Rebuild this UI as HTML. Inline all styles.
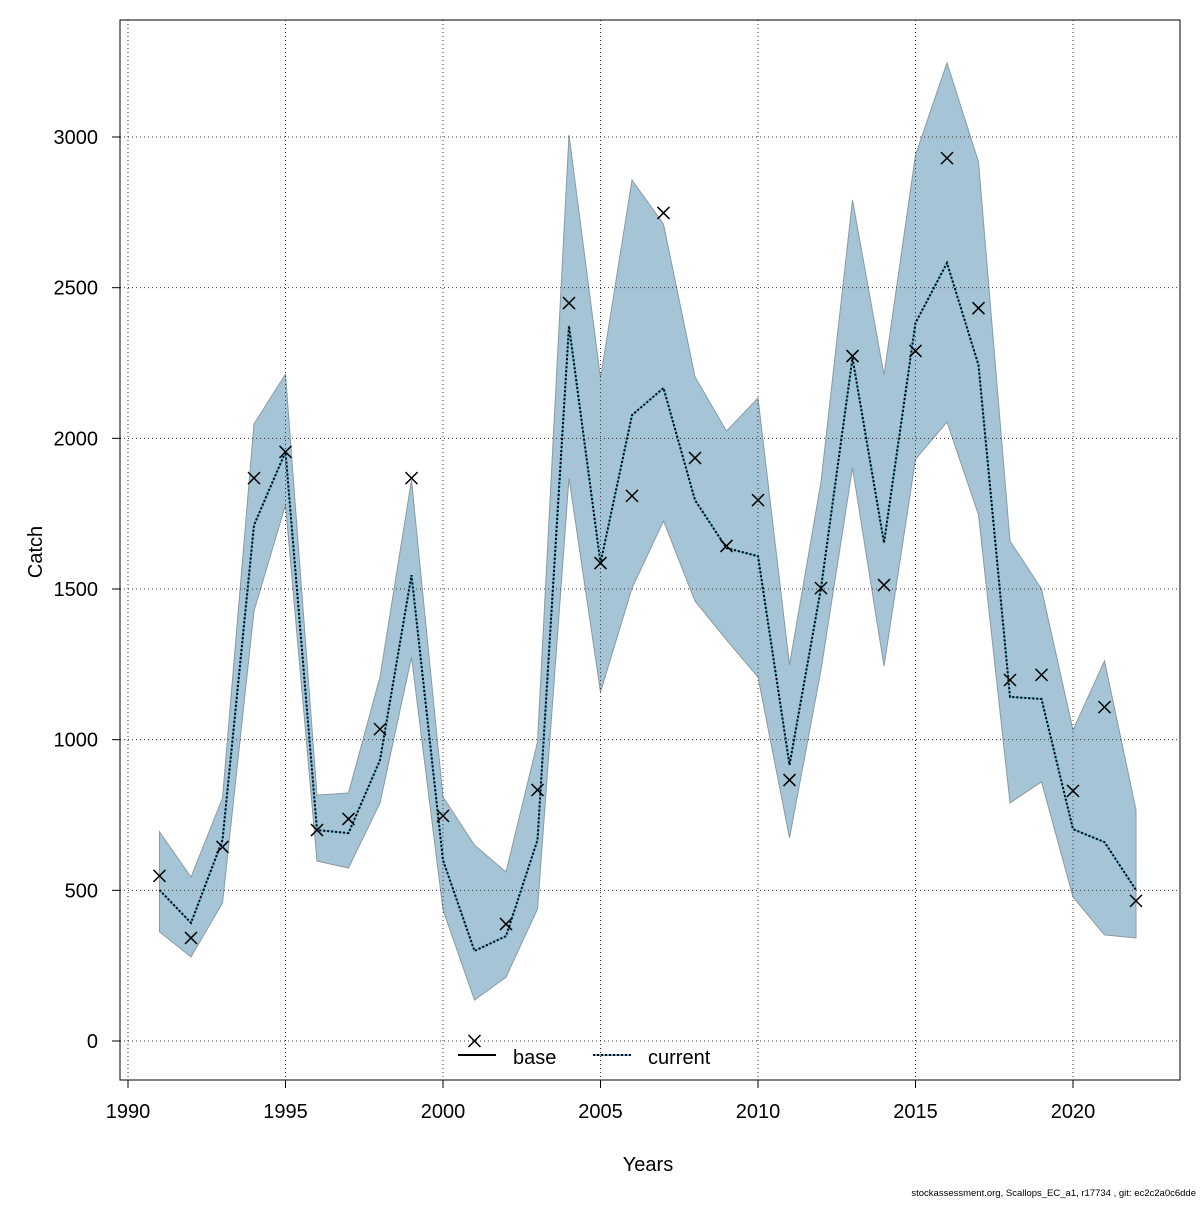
<!DOCTYPE html>
<html><head><meta charset="utf-8"><style>
body{margin:0;background:#fff}
svg text{font-family:"Liberation Sans",sans-serif}
</style></head><body>
<svg id="chart" width="1200" height="1200" xmlns="http://www.w3.org/2000/svg">
<g id="band"></g>
<g id="grid"></g>
<g id="lines"></g>
<g id="pts"></g>
<rect x="120" y="20" width="1060" height="1060" fill="none" stroke="#000" stroke-width="1"/>
<g id="axes"></g>
<text x="648" y="1171" font-size="20" text-anchor="middle">Years</text>
<text x="42" y="552" font-size="20" text-anchor="middle" transform="rotate(-90 42 552)">Catch</text>
<g>
<line x1="458" y1="1055" x2="496" y2="1055" stroke="#000" stroke-width="2"/>
<text x="513" y="1064" font-size="20">base</text>
<line x1="593" y1="1055" x2="631" y2="1055" stroke="#5bb8dc" stroke-width="2"/>
<line x1="593" y1="1055" x2="631" y2="1055" stroke="#000" stroke-width="2" stroke-dasharray="2,2"/>
<text x="648" y="1064" font-size="20">current</text>
</g>
<text x="1196" y="1196" font-size="9.5" text-anchor="end">stockassessment.org, Scallops_EC_a1, r17734 , git: ec2c2a0c6dde</text>
</svg>
<script>
const years=[1991,1992,1993,1994,1995,1996,1997,1998,1999,2000,2001,2002,2003,2004,2005,2006,2007,2008,2009,2010,2011,2012,2013,2014,2015,2016,2017,2018,2019,2020,2021,2022];
const observed=[548,342,644,1868,1955,700,737,1035,1868,747,0,388,833,2449,1586,1809,2748,1935,1643,1795,866,1503,2273,1513,2290,2930,2432,1198,1215,830,1108,465];
const current=[501,392,667,1712,1955,700,690,932,1546,600,299,348,667,2373,1586,2077,2167,1795,1636,1609,916,1503,2267,1653,2383,2582,2243,1142,1135,703,660,501];
const upper=[694,544,806,2048,2213,816,823,1208,1862,810,650,561,992,3007,2200,2857,2711,2204,2024,2134,1248,1855,2791,2210,2940,3246,2917,1659,1500,1032,1261,767];
const lower=[362,279,458,1427,1779,597,574,790,1274,435,136,212,438,1868,1158,1503,1726,1460,1331,1208,674,1231,1902,1244,1931,2054,1746,790,860,478,352,342];
const xTicks=[1990,1995,2000,2005,2010,2015,2020];
const yTicks=[0,500,1000,1500,2000,2500,3000];
const NS="http://www.w3.org/2000/svg";
const X=v=>128+(v-1990)*31.5;
const Y=v=>1041-v*0.30133;
function mk(t,a,p){const e=document.createElementNS(NS,t);for(const k in a)e.setAttribute(k,a[k]);p.appendChild(e);return e;}
const band=document.getElementById('band');
let pts=years.map((y,i)=>X(y)+','+Y(upper[i]));
for(let i=years.length-1;i>=0;i--)pts.push(X(years[i])+','+Y(lower[i]));
const poly=mk('polygon',{points:pts.join(' '),fill:'#a5c4d5',stroke:'#8a9aa5','stroke-width':1},band);


const grid=document.getElementById('grid');
xTicks.forEach(t=>{const l=mk('line',{x1:X(t),x2:X(t),y1:20,y2:1080,stroke:'#333','stroke-width':1,'stroke-dasharray':'1,3'},grid);

});
yTicks.forEach(t=>{const l=mk('line',{x1:120,x2:1180,y1:Y(t),y2:Y(t),stroke:'#333','stroke-width':1,'stroke-dasharray':'1,3'},grid);

});
const lines=document.getElementById('lines');
const lp=years.map((y,i)=>X(y)+','+Y(current[i])).join(' ');
const c1=mk('polyline',{points:lp,fill:'none',stroke:'#5bb8dc','stroke-width':2},lines);


mk('polyline',{points:lp,fill:'none',stroke:'#000','stroke-width':2,'stroke-dasharray':'2,2'},lines);
const pg=document.getElementById('pts');
years.forEach((y,i)=>{const cx=X(y),cy=Y(observed[i]),s=6;
const p=mk('path',{d:`M${cx-s},${cy-s}L${cx+s},${cy+s}M${cx-s},${cy+s}L${cx+s},${cy-s}`,stroke:'#000','stroke-width':1.5,fill:'none'},pg);

});
const ax=document.getElementById('axes');
mk('line',{x1:X(1990),x2:X(2020),y1:1080,y2:1080,stroke:'#000'},ax);
xTicks.forEach(t=>{mk('line',{x1:X(t),x2:X(t),y1:1080,y2:1088,stroke:'#000'},ax);
const tx=mk('text',{x:X(t),y:1118,'font-size':20,'text-anchor':'middle'},ax);tx.textContent=t;

});
yTicks.forEach(t=>{mk('line',{x1:112,x2:120,y1:Y(t),y2:Y(t),stroke:'#000'},ax);
const tx=mk('text',{x:98,y:Y(t)+7,'font-size':20,'text-anchor':'end'},ax);tx.textContent=t;

});
</script>
</body></html>
